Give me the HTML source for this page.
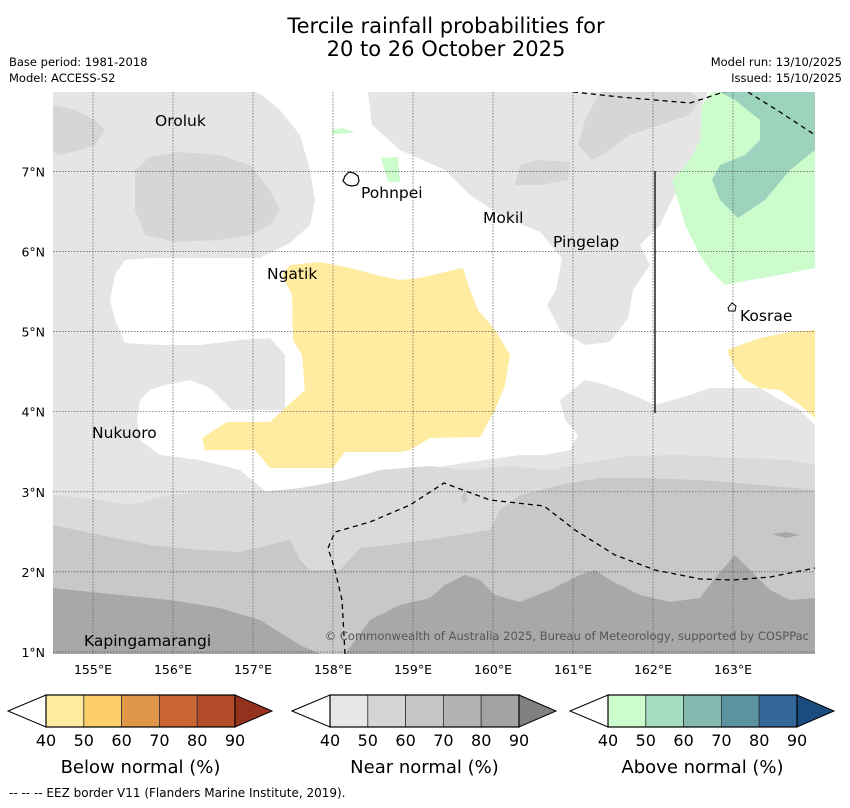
<!DOCTYPE html>
<html><head><meta charset="utf-8"><style>
body{margin:0;background:#fff;width:850px;height:804px;overflow:hidden;font-family:"DejaVu Sans","Liberation Sans",sans-serif}
svg text{font-family:"DejaVu Sans","Liberation Sans",sans-serif}
</style></head><body>
<svg width="850" height="804" viewBox="0 0 850 804">
<text x="446" y="33" font-size="21" text-anchor="middle">Tercile rainfall probabilities for</text>
<text x="446" y="56" font-size="21" text-anchor="middle">20 to 26 October 2025</text>
<text x="9" y="66" font-size="11.5">Base period: 1981-2018</text>
<text x="9" y="82" font-size="11.5">Model: ACCESS-S2</text>
<text x="842" y="66" font-size="11.5" text-anchor="end">Model run: 13/10/2025</text>
<text x="842" y="82" font-size="11.5" text-anchor="end">Issued: 15/10/2025</text>
<defs><clipPath id="mc"><rect x="53" y="92" width="762" height="562"/></clipPath></defs>
<g clip-path="url(#mc)">
<rect x="53" y="92" width="762" height="562" fill="#e5e5e5"/>
<polygon fill="#fff" points="255,92 368,92 372,125 400,150 445,170 470,195 500,215 540,232 562,258 556,290 547,305 560,330 585,345 610,342 628,318 633,290 650,265 640,245 660,225 672,200 688,170 702,140 702,105 708,92 815,92 815,425 800,410 780,400 760,388 710,388 690,395 655,405 640,398 620,390 600,383 585,380 560,400 565,420 578,435 570,450 545,455 520,455 500,458 470,462 420,470 395,480 370,490 340,490 300,490 270,495 258,485 240,470 200,460 160,455 140,440 137,420 140,400 150,390 165,385 190,380 210,388 222,400 232,410 285,410 285,355 270,338 240,340 200,345 160,345 125,343 115,320 110,300 115,275 125,260 150,258 210,258 260,258 290,243 310,225 315,200 310,170 300,135 280,110 262,95"/>
<polygon fill="#d6d6d6" points="53,105 75,110 95,120 105,130 95,145 80,150 60,155 53,152"/>
<polygon fill="#d6d6d6" points="135,170 150,157 180,152 220,155 250,165 270,190 280,210 270,225 250,235 220,240 175,242 145,235 135,210"/>
<polygon fill="#d6d6d6" points="600,92 690,92 700,100 690,115 660,125 630,135 610,150 592,160 578,145 585,120"/>
<polygon fill="#d6d6d6" points="520,165 540,160 570,162 568,180 540,185 515,185"/>
<polygon fill="#ccfccc" points="712,92 815,92 815,268 780,275 750,280 725,285 710,270 700,255 685,225 672,180 690,160 700,140 702,105"/>
<polygon fill="#9dd2bd" points="720,92 815,92 815,150 790,170 765,200 738,218 720,200 712,180 720,165 745,155 760,140 760,120 735,100"/>
<polygon fill="#ccfccc" points="332,130 342,128 355,132 342,134 332,134"/>
<polygon fill="#ccfccc" points="381,158 398,157 400,182 388,182"/>
<polygon fill="#ffeca0" points="727,350 760,338 790,332 815,330 815,418 800,405 780,390 760,388 745,380 735,368"/>
<polygon fill="#ffeca0" points="290,265 320,262 350,268 380,276 400,280 420,278 445,272 463,268 470,290 478,310 495,330 510,355 505,385 495,410 480,437 430,438 410,450 400,452 345,452 333,468 270,468 255,450 205,450 202,438 227,422 270,422 305,390 302,355 293,340 292,295 282,275"/>
<polygon fill="#dadada" points="53,495 100,500 130,505 170,495 210,492 260,492 300,488 345,480 380,470 430,466 470,470 510,466 550,470 590,462 630,456 680,455 740,458 790,460 815,465 815,654 53,654"/>
<polygon fill="#c8c8c8" points="53,525 100,535 150,545 200,550 240,552 290,540 300,560 310,570 340,570 360,548 390,545 440,538 490,530 500,510 520,495 560,485 600,478 640,478 700,480 760,485 815,490 815,654 53,654"/>
<polygon fill="#a8a8a8" points="53,588 120,595 170,600 220,608 260,620 300,645 320,654 345,654 370,620 400,605 430,598 445,585 465,575 480,580 495,595 520,602 550,590 580,575 595,570 610,580 640,595 670,602 700,598 715,578 735,555 750,570 770,590 790,600 815,598 815,654 53,654"/>
<polygon fill="#a8a8a8" points="772,534 786,532 800,535 786,538"/>
<polygon fill="#c8c8c8" points="461,497 465,490 468,500 463,505"/>
<g id="grid"></g>
<polyline fill="none" stroke="#000" stroke-width="1.3" stroke-dasharray="5,4" points="573,92 620,97 690,103 730,90"/>
<polyline fill="none" stroke="#000" stroke-width="1.3" stroke-dasharray="5,4" points="748,92 780,112 815,135"/>
<polyline fill="none" stroke="#000" stroke-width="1.3" stroke-dasharray="5,4" points="345,654 342,600 335,570 328,548 335,532 370,522 410,505 444,483 490,500 544,506 575,530 615,555 655,570 700,579 733,580 770,577 815,568"/>
<line x1="655" y1="171" x2="655" y2="413" stroke="#222" stroke-width="1.5"/>
<path d="M345,176 l4,-4 5,1 4,3 1,5 -2,4 -5,1 -5,-1 -4,-4z" fill="none" stroke="#000" stroke-width="1.2"/>
<path d="M728,308 l4,-5 4,3 -1,5 -6,0z" fill="none" stroke="#000" stroke-width="1"/>
<g font-size="15.5" fill="#000">
<text x="155" y="126">Oroluk</text>
<text x="361" y="198">Pohnpei</text>
<text x="483" y="223">Mokil</text>
<text x="553" y="247">Pingelap</text>
<text x="267" y="279">Ngatik</text>
<text x="740" y="321">Kosrae</text>
<text x="92" y="438">Nukuoro</text>
<text x="84" y="646">Kapingamarangi</text>
</g>
<text x="809" y="640" font-size="11.5" fill="#555" text-anchor="end">© Commonwealth of Australia 2025, Bureau of Meteorology, supported by COSPPac</text>
</g>
<g id="axes" font-size="12.5"></g>
<g id="cbars"></g>
<text x="9" y="797" font-size="12">--  --  -- EEZ border V11 (Flanders Marine Institute, 2019).</text>
</svg>
<script>
const lonTicks=[155,156,157,158,159,160,161,162,163];
const latTicks=[1,2,3,4,5,6,7];
const cbLevels=[40,50,60,70,80,90];
const belowColors=["#ffeca0","#fdcf6b","#e0974a","#cc6534","#b24c28","#94321e"];
const nearColors=["#e6e6e6","#d5d5d5","#c5c5c5","#b3b3b3","#a3a3a3","#808080"];
const aboveColors=["#ccfccc","#a6dcc0","#84b9b0","#5c93a1","#336699","#1a4c80"];
const cbTitles=["Below normal (%)","Near normal (%)","Above normal (%)"];
const NS="http://www.w3.org/2000/svg";
const xS=lon=>93+(lon-155)*80, yS=lat=>652-(lat-1)*80.1;
function mk(t,a,p){const e=document.createElementNS(NS,t);for(const k in a)e.setAttribute(k,a[k]);p.appendChild(e);return e;}
const grid=document.getElementById('grid'),axes=document.getElementById('axes');
lonTicks.forEach(l=>{
 const ln=mk('line',{x1:xS(l),x2:xS(l),y1:92,y2:654,stroke:'#555','stroke-width':0.7,'stroke-dasharray':'1.5,1.5'},grid);
 
 
 const t=mk('text',{x:xS(l),y:674,'text-anchor':'middle'},axes);t.textContent=l+'°E';
 
 
});
latTicks.forEach(l=>{
 const ln=mk('line',{x1:53,x2:815,y1:yS(l),y2:yS(l),stroke:'#555','stroke-width':0.7,'stroke-dasharray':'1.5,1.5'},grid);
 
 
 const t=mk('text',{x:45,y:yS(l)+5,'text-anchor':'end'},axes);t.textContent=l+'°N';
 
 
});
const cb=document.getElementById('cbars');
const starts=[8,292,570],palettes=[belowColors,nearColors,aboveColors];
starts.forEach((x0,i)=>{
 const bx=x0+38,w=37.8,y0=695,y1=727,ym=711;
 const g=mk('g',{},cb);
 
 
 const lt=mk('polygon',{points:`${x0},${ym} ${bx},${y0} ${bx},${y1}`,fill:'#fff',stroke:'#000','stroke-width':1},g);
 
 
 for(let k=0;k<cbLevels.length-1;k++){
  const r=mk('rect',{x:bx+k*w,y:y0,width:w,height:y1-y0,fill:palettes[i][k],stroke:'#333','stroke-width':0.8},g);
  
  
 }
 const ex=bx+5*w;
 const rt=mk('polygon',{points:`${ex},${y0} ${ex+37},${ym} ${ex},${y1}`,fill:palettes[i][5],stroke:'#000','stroke-width':1},g);
 
 
 mk('rect',{x:bx,y:y0,width:5*w,height:y1-y0,fill:'none',stroke:'#000','stroke-width':1.2},g);
 cbLevels.forEach((v,k)=>{const t=mk('text',{x:bx+k*w,y:746,'text-anchor':'middle','font-size':16},g);t.textContent=v;
  
  });
 const tt=mk('text',{x:bx+2.5*w,y:773,'text-anchor':'middle','font-size':18},g);tt.textContent=cbTitles[i];
 
 
});
</script>
</body></html>
